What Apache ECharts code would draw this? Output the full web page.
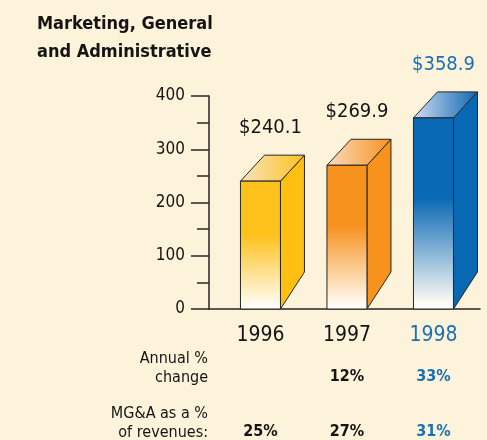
<!DOCTYPE html>
<html>
<head>
<meta charset="utf-8">
<script src="https://cdn.jsdelivr.net/npm/echarts@6/dist/echarts.min.js"></script>
<style>
  html, body { margin: 0; padding: 0; background: #fdf3da; }
  #chart { width: 487px; height: 440px; }
</style>
</head>
<body>
<div id="chart"></div>
<script>
// data
const years = ['1996', '1997', '1998'];
const mgaValues = [240.1, 269.9, 358.9];
const valueLabels = ['$240.1', '$269.9', '$358.9'];
const annualChange = ['', '12%', '33%'];
const pctOfRevenues = ['25%', '27%', '31%'];
const yTicks = [0, 100, 200, 300, 400];

const FONT = "'Liberation Sans Narrow', 'DejaVu Sans Condensed', Roboto, sans-serif";
const INK = '#141414';
const BLUE = '#1a6fb7';

const palettes = [
  { face: '#fdc11c', side: '#fdc010', topLight: '#f7e4c0' },
  { face: '#f7921e', side: '#f7931d', topLight: '#f9dcc0' },
  { face: '#0a69b4', side: '#0868b3', topLight: '#d2dcf0' }
];
const textColors = [INK, INK, BLUE];

const BAR_W = 40;
const DEPTH_X = 24;
const DEPTH_TOP = -26;
const DEPTH_BOTTOM = -37;

const chart = echarts.init(document.getElementById('chart'), null, { renderer: 'canvas' });

function renderBar(params, api) {
  const idx = api.value(0);
  const top = api.coord([idx, api.value(1)]);
  const base = api.coord([idx, 0]);
  const x0 = top[0] - BAR_W / 2;
  const x1 = top[0] + BAR_W / 2;
  const yT = top[1];
  const yB = base[1];
  const pal = palettes[params.dataIndex];
  const stroke = { stroke: '#262626', lineWidth: 1 };

  return {
    type: 'group',
    children: [
      {
        type: 'polygon',
        shape: { points: [[x1, yB], [x1, yT], [x1 + DEPTH_X, yT + DEPTH_TOP], [x1 + DEPTH_X, yB + DEPTH_BOTTOM]] },
        style: Object.assign({ fill: pal.side }, stroke)
      },
      {
        type: 'polygon',
        shape: { points: [[x0, yT], [x0 + DEPTH_X, yT + DEPTH_TOP], [x1 + DEPTH_X, yT + DEPTH_TOP], [x1, yT]] },
        style: Object.assign({
          fill: new echarts.graphic.LinearGradient(0, 0.5, 1, 0.5, [
            { offset: 0, color: pal.topLight },
            { offset: 1, color: pal.face }
          ])
        }, stroke)
      },
      {
        type: 'rect',
        shape: { x: x0, y: yT, width: BAR_W, height: yB - yT },
        style: Object.assign({
          fill: new echarts.graphic.LinearGradient(0, 0, 0, 1, [
            { offset: 0, color: pal.face },
            { offset: 0.42, color: pal.face },
            { offset: 0.97, color: '#fffcf5' },
            { offset: 1, color: '#ffffff' }
          ])
        }, stroke)
      },
      {
        type: 'text',
        style: {
          x: top[0] + 10,
          y: yT + DEPTH_TOP - 27,
          text: valueLabels[params.dataIndex],
          fill: textColors[params.dataIndex],
          font: '20px ' + FONT,
          align: 'center',
          verticalAlign: 'middle'
        }
      }
    ]
  };
}

function rowAxis(offset, name, labels) {
  return {
    type: 'value',
    position: 'bottom',
    min: -0.595,
    max: 2.538,
    offset: offset,
    name: name,
    nameLocation: 'start',
    nameGap: 1,
    nameTextStyle: { fontFamily: FONT, fontSize: 16, lineHeight: 19, color: INK, align: 'right', verticalAlign: 'middle' },
    axisLine: { show: false, onZero: false },
    axisTick: { show: false },
    splitLine: { show: false },
    axisLabel: {
      customValues: [0, 1, 2],
      margin: 1,
      fontFamily: FONT,
      fontSize: 16,
      fontWeight: 'bold',
      formatter: (v) => { const i = Math.round(v); return labels[i] ? (i === 2 ? '{b|' + labels[i] + '}' : labels[i]) : ''; },
      color: INK,
      rich: { b: { color: BLUE, fontFamily: FONT, fontSize: 16, fontWeight: 'bold' } }
    }
  };
}

chart.setOption({
  backgroundColor: '#fdf3da',
  animation: false,
  title: {
    text: 'Marketing, General\nand Administrative',
    left: 32,
    top: 5,
    textStyle: { fontFamily: FONT, fontSize: 18, fontWeight: 'bold', lineHeight: 28, color: INK }
  },
  grid: { left: 209, right: 7, top: 96, bottom: 131, outerBoundsMode: 'none' },
  xAxis: [
    {
      type: 'value',
      min: -0.595,
      max: 2.538,
      axisLine: { show: true, onZero: false, lineStyle: { color: '#262626', width: 1.5 } },
      axisTick: { show: false },
      splitLine: { show: false },
      axisLabel: {
        customValues: [0, 1, 2],
        margin: 16,
        fontFamily: FONT,
        fontSize: 21,
        color: INK,
        formatter: (v) => { const i = Math.round(v); return i === 2 ? '{b|' + years[i] + '}' : years[i]; },
        rich: { b: { color: BLUE, fontFamily: FONT, fontSize: 21 } }
      }
    },
    rowAxis(59, 'Annual %\nchange', annualChange),
    rowAxis(114, 'MG&A as a %\nof revenues:', pctOfRevenues)
  ],
  yAxis: {
    type: 'value',
    min: yTicks[0],
    max: yTicks[yTicks.length - 1],
    interval: 100,
    axisLine: { show: true, onZero: false, lineStyle: { color: '#262626', width: 1.5 } },
    axisTick: { show: true, length: 18, lineStyle: { color: '#262626', width: 1.5 } },
    minorTick: { show: true, splitNumber: 2, length: 12, lineStyle: { color: '#262626', width: 1.5 } },
    splitLine: { show: false },
    minorSplitLine: { show: false },
    axisLabel: { margin: 24, fontFamily: FONT, fontSize: 17, color: INK }
  },
  series: [{
    type: 'custom',
    renderItem: renderBar,
    clip: false,
    data: mgaValues.map((v, i) => [i, v])
  }]
});
</script>
</body>
</html>
